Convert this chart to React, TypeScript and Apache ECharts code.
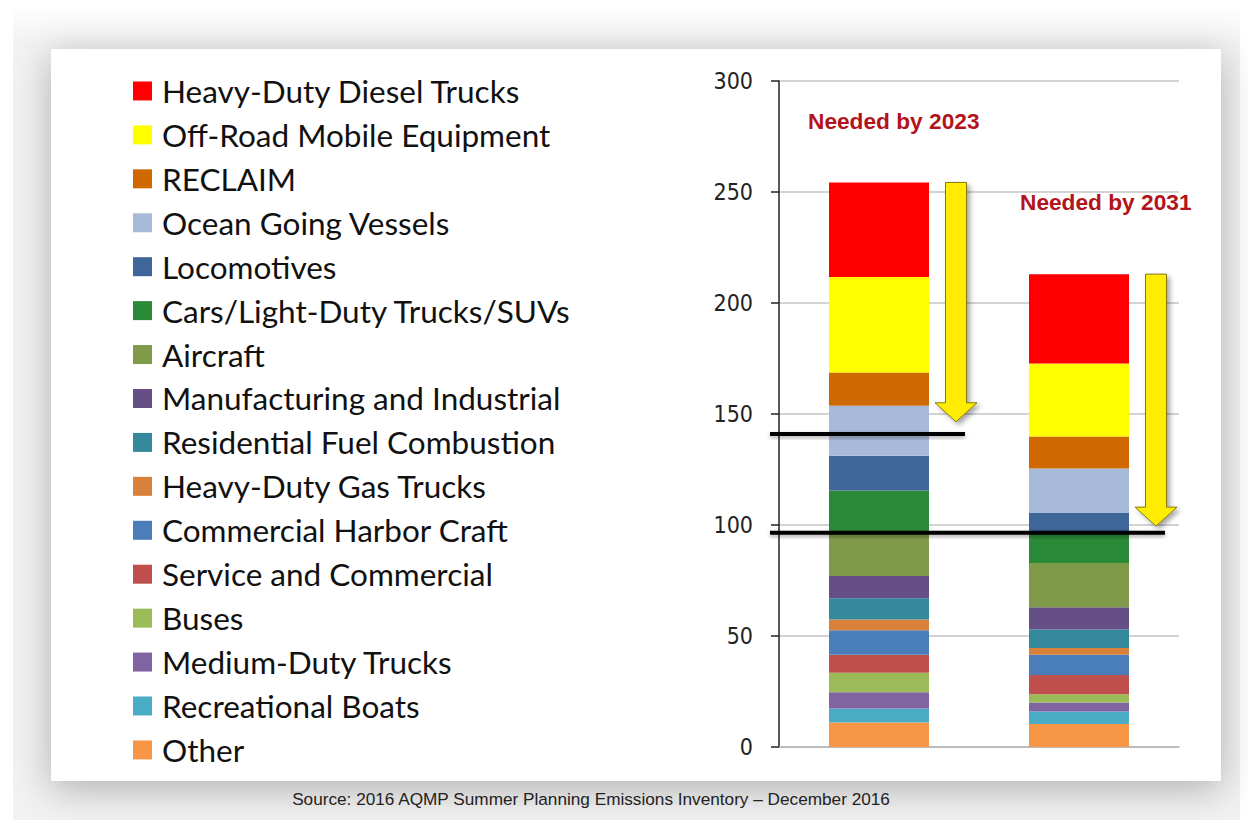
import React, { useEffect, useRef } from "react";
import * as echarts from "echarts";

const categories = ["2023", "2031"];

// stacking order: bottom to top
const sourceNames = [
  "Other",
  "Recreational Boats",
  "Medium-Duty Trucks",
  "Buses",
  "Service and Commercial",
  "Commercial Harbor Craft",
  "Heavy-Duty Gas Trucks",
  "Residential Fuel Combustion",
  "Manufacturing and Industrial",
  "Aircraft",
  "Cars/Light-Duty Trucks/SUVs",
  "Locomotives",
  "Ocean Going Vessels",
  "RECLAIM",
  "Off-Road Mobile Equipment",
  "Heavy-Duty Diesel Trucks",
];

const values2023 = [11, 6.3, 7.4, 8.7, 8.2, 11, 4.8, 9.6, 10, 19, 19.5, 15.7, 22.5, 15, 43, 42.6];
const values2031 = [10.4, 5.6, 4.0, 3.8, 8.6, 9.2, 3.0, 8.3, 10, 20, 14, 8.5, 20, 14.5, 32.8, 40.3];

const sourceColors = [
  "#f79646",
  "#4bacc6",
  "#8064a2",
  "#9bbb59",
  "#c0504d",
  "#4a7ebb",
  "#d9803a",
  "#35899d",
  "#664f87",
  "#7f9a48",
  "#2a8a38",
  "#3e6699",
  "#a8bad9",
  "#d06800",
  "#ffff00",
  "#ff0000",
];

// attainment levels (black lines): [last category spanned, value]
const targetLines = [
  [0, 141],
  [1, 96.5],
];
// arrow tips (value where the downward arrow ends)
const arrowTips = [146.5, 99.5];

const yTicks = { min: 0, max: 300, interval: 50 };

const annotationTexts = ["Needed by 2023", "Needed by 2031"];
const sourceNote = "Source: 2016 AQMP Summer Planning Emissions Inventory \u2013 December 2016";

export default function App() {
  const ref = useRef<HTMLDivElement>(null);

  useEffect(() => {
    if (!ref.current) return;
    const chart = echarts.init(ref.current, null, { renderer: "svg" });

    const totals = categories.map((_, ci) =>
      (ci === 0 ? values2023 : values2031).reduce((a, b) => a + b, 0)
    );
    const arrowData = categories.map((_, ci) => [ci, totals[ci], arrowTips[ci]]);

    const barSeries = sourceNames.map((name, i) => ({
      name,
      type: "bar",
      stack: "total",
      barWidth: "50%",
      itemStyle: { color: sourceColors[i] },
      data: [values2023[i], values2031[i]],
      z: 2,
    }));

    const legendOrder = sourceNames.slice().reverse();

    chart.setOption({
      animation: false,
      grid: { left: 779, right: 69, top: 81, bottom: 73, containLabel: false },
      legend: {
        data: legendOrder,
        orient: "vertical",
        left: 133,
        top: 69,
        padding: 0,
        itemGap: 0,
        itemWidth: 19,
        itemHeight: 19,
        icon: "rect",
        selectedMode: false,
        textStyle: {
          fontFamily: "Lato",
          fontSize: 31.5,
          color: "#111",
          lineHeight: 43.93,
          padding: [0, 0, 0, 5],
        },
      },
      xAxis: {
        type: "category",
        data: categories,
        axisLabel: { show: false },
        axisTick: { show: false },
        axisLine: { lineStyle: { color: "#b5b5b5", width: 1.5 } },
      },
      yAxis: {
        type: "value",
        min: yTicks.min,
        max: yTicks.max,
        interval: yTicks.interval,
        axisLine: { show: true, lineStyle: { color: "#222", width: 1.5 } },
        axisTick: { show: true, length: 8, lineStyle: { color: "#222", width: 1.5 } },
        axisLabel: {
          margin: 26,
          fontFamily: '"Liberation Sans Narrow", "Arial Narrow", "DejaVu Sans Condensed", "Liberation Sans", sans-serif',
          fontSize: 23,
          color: "#222",
        },
        splitLine: { lineStyle: { color: "#c4c4c4", width: 1.5 } },
      },
      series: [
        ...barSeries,
        {
          type: "custom",
          name: "targets",
          coordinateSystem: "cartesian2d",
          z: 5,
          silent: true,
          clip: false,
          data: targetLines,
          renderItem: (params: any, api: any) => {
            const endCat = api.value(0);
            const v = api.value(1);
            const bw = api.size([1, 0])[0];
            const start = api.coord([0, v]);
            const end = api.coord([endCat, v]);
            const x1 = start[0] - bw * 0.545;
            const x2 = end[0] + bw * 0.43;
            return {
              type: "rect",
              shape: { x: x1, y: start[1] - 2, width: x2 - x1, height: 4 },
              style: {
                fill: "#000",
                shadowBlur: 4,
                shadowColor: "rgba(0,0,0,0.35)",
                shadowOffsetY: 2,
              },
            };
          },
        },
        {
          type: "custom",
          name: "arrows",
          coordinateSystem: "cartesian2d",
          z: 6,
          silent: true,
          data: arrowData,
          renderItem: (params: any, api: any) => {
            const cat = api.value(0);
            const top = api.coord([cat, api.value(1)]);
            const tip = api.coord([cat, api.value(2)]);
            const bw = api.size([1, 0])[0];
            const cx = top[0] + bw * 0.385;
            const sw = 10.5;
            const hw = 21;
            const hh = 19;
            const yt = top[1];
            const yp = tip[1];
            const yh = yp - hh;
            return {
              type: "polygon",
              shape: {
                points: [
                  [cx - sw, yt],
                  [cx + sw, yt],
                  [cx + sw, yh],
                  [cx + hw, yh],
                  [cx, yp],
                  [cx - hw, yh],
                  [cx - sw, yh],
                ],
              },
              style: {
                fill: "#ffec00",
                stroke: "#857a10",
                lineWidth: 1,
                shadowBlur: 5,
                shadowColor: "rgba(0,0,0,0.35)",
                shadowOffsetX: 3,
                shadowOffsetY: 3,
              },
            };
          },
        },
      ],
      graphic: [
        {
          type: "text",
          left: 808,
          top: 109,
          z: 10,
          style: {
            text: annotationTexts[0],
            font: 'bold 22.7px "Liberation Sans"',
            fill: "#b3131b",
          },
        },
        {
          type: "text",
          left: 1020,
          top: 190,
          z: 10,
          style: {
            text: annotationTexts[1],
            font: 'bold 22.7px "Liberation Sans"',
            fill: "#b3131b",
          },
        },
        {
          type: "text",
          x: 591,
          y: 799,
          z: 10,
          style: {
            text: sourceNote,
            font: '17.2px "Liberation Sans"',
            fill: "#222",
            textAlign: "center",
            textVerticalAlign: "middle",
          },
        },
      ],
    });

    return () => chart.dispose();
  }, []);

  return (
    <div style={{ position: "fixed", left: 0, top: 0, width: 1248, height: 820, background: "#fff", overflow: "hidden" }}>
      <div
        style={{
          position: "absolute",
          left: 13,
          top: 4,
          width: 1227,
          height: 830,
          background: "linear-gradient(#ffffff, #f2f2f2 40px)",
        }}
      />
      <div
        style={{
          position: "absolute",
          left: 51,
          top: 49,
          width: 1170,
          height: 732,
          background: "#fff",
          boxShadow: "0 8px 36px rgba(0,0,0,0.28)",
        }}
      />
      <div ref={ref} style={{ position: "absolute", left: 0, top: 0, width: 1248, height: 820 }} />
    </div>
  );
}
